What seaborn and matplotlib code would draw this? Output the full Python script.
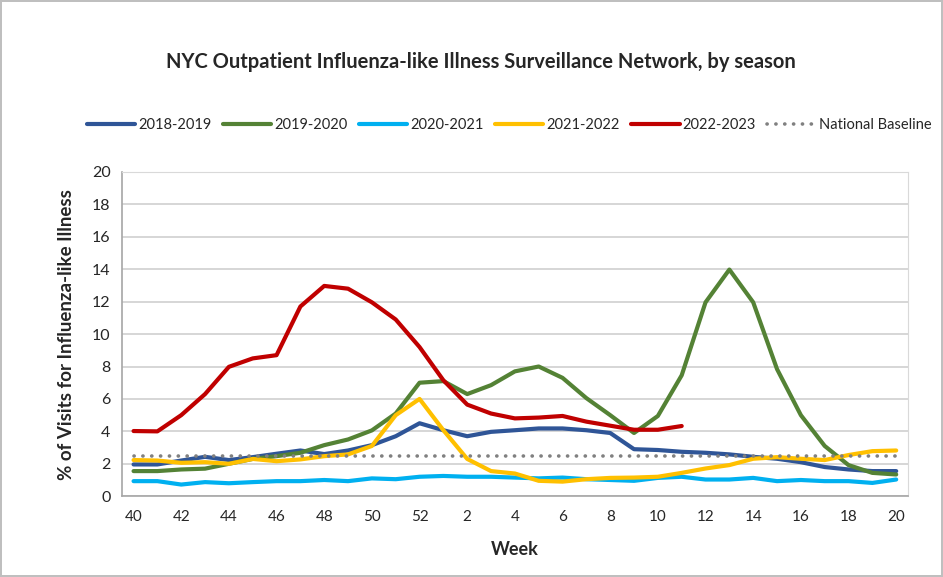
import numpy as np
import pandas as pd
import matplotlib
matplotlib.use("Agg")
import matplotlib.pyplot as plt
import seaborn as sns

# weeks of the season, 40..52 then 1..20
weeks = list(range(40, 53)) + list(range(1, 21))

s2018 = [1.96, 1.96, 2.2, 2.43, 2.23, 2.41, 2.62, 2.82, 2.6, 2.82, 3.15,
         3.7, 4.5, 4.07, 3.7, 3.97, 4.07, 4.18, 4.18, 4.07, 3.9, 2.9,
         2.85, 2.74, 2.68, 2.58, 2.43, 2.31, 2.1, 1.8, 1.65, 1.55, 1.55]
s2019 = [1.55, 1.55, 1.65, 1.7, 2.0, 2.3, 2.47, 2.68, 3.15, 3.5, 4.06,
         5.1, 7.0, 7.1, 6.3, 6.85, 7.7, 8.0, 7.3, 6.05, 5.0, 3.9,
         4.95, 7.46, 11.96, 13.98, 11.96, 7.84, 5.0, 3.1, 1.92, 1.44, 1.34]
s2020 = [0.93, 0.93, 0.72, 0.87, 0.8, 0.87, 0.93, 0.93, 1.0, 0.93, 1.1,
         1.05, 1.2, 1.25, 1.2, 1.2, 1.15, 1.1, 1.15, 1.05, 1.0, 0.95,
         1.13, 1.2, 1.03, 1.03, 1.13, 0.93, 1.0, 0.93, 0.93, 0.82, 1.03]
s2021 = [2.23, 2.2, 2.06, 2.1, 2.0, 2.3, 2.16, 2.27, 2.47, 2.58, 3.1,
         5.0, 6.0, 4.07, 2.3, 1.55, 1.4, 0.95, 0.9, 1.05, 1.13, 1.15,
         1.2, 1.44, 1.71, 1.92, 2.31, 2.41, 2.31, 2.23, 2.54, 2.78, 2.82]
s2022 = [4.02, 4.0, 5.0, 6.3, 7.98, 8.5, 8.7, 11.7, 12.97, 12.8, 11.96,
         10.9, 9.2, 7.15, 5.65, 5.1, 4.8, 4.85, 4.95, 4.6, 4.35, 4.1,
         4.1, 4.33]
baseline = 2.5

seasons = ["2018-2019", "2019-2020", "2020-2021", "2021-2022", "2022-2023"]
values = [s2018, s2019, s2020, s2021, s2022]
colors = ["#2F5597", "#548235", "#00B0F0", "#FFC000", "#C00000"]

sns.set_style("white")
plt.rcParams["font.family"] = ["Lato", "DejaVu Sans"]

fig = plt.figure(figsize=(9.43, 5.77), dpi=100)
ax = fig.add_axes([0.129, 0.140, 0.834, 0.562])

pos = np.arange(len(weeks))
for name, vals, col in zip(seasons, values, colors):
    df = pd.DataFrame({"x": pos[:len(vals)], "y": vals})
    sns.lineplot(data=df, x="x", y="y", color=col, linewidth=3, ax=ax, label=name)

bl = pd.DataFrame({"x": pos, "y": [baseline] * len(pos)})
sns.lineplot(data=bl, x="x", y="y", color="#808080", linewidth=2.6,
             linestyle=(0, (0.05, 2.4)), dash_capstyle="round", ax=ax,
             label="National Baseline")

ax.set_xlim(-0.5, len(weeks) - 0.5)
ax.set_ylim(0, 20)
ax.set_yticks(range(0, 21, 2))
ax.set_xticks(pos[::2])
ax.set_xticklabels([str(w) for w in weeks[::2]])
ax.set_xticks(np.arange(-0.5, len(weeks)), minor=True)
ax.tick_params(axis="x", which="major", length=0, pad=10, labelsize=11)
ax.tick_params(axis="x", which="minor", length=5, color="#a6a6a6", width=1)
ax.tick_params(axis="y", length=0, pad=8, labelsize=11.5)
ax.grid(axis="y", color="#d0d0d0", linewidth=1.2)
ax.set_axisbelow(True)
for side in ["top", "right"]:
    ax.spines[side].set_color("#d9d9d9")
for side in ["left", "bottom"]:
    ax.spines[side].set_color("#a6a6a6")
    ax.spines[side].set_linewidth(1.2)

ax.set_xlabel("Week", fontsize=13, fontweight="bold", labelpad=12)
ax.set_ylabel("% of Visits for Influenza-like Illness", fontsize=13.5,
              fontweight="bold", labelpad=12)

handles, labels = ax.get_legend_handles_labels()
ax.get_legend().remove()
fig.legend(handles, labels, loc="center", bbox_to_anchor=(0.54, 0.783),
           ncol=6, frameon=False, fontsize=10.5, handlelength=3.3,
           columnspacing=0.8, handletextpad=0.2)

fig.text(0.51, 0.892, "NYC Outpatient Influenza-like Illness Surveillance Network, by season",
         ha="center", va="center", fontsize=14.5, fontweight="bold")

fig.patch.set_edgecolor("#bfbfbf")
fig.patch.set_linewidth(1.5)

fig.savefig("out.png", dpi=100, edgecolor=fig.get_edgecolor())
